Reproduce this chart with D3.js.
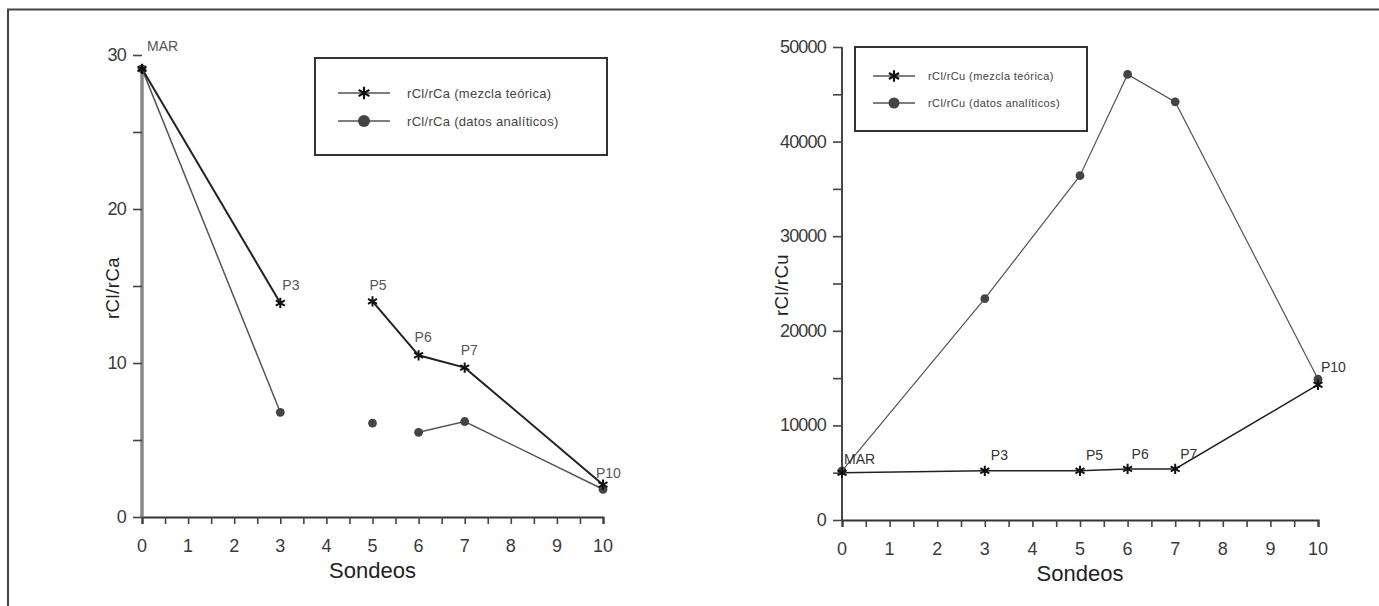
<!DOCTYPE html>
<html>
<head>
<meta charset="utf-8">
<script src="https://cdn.jsdelivr.net/npm/d3@7"></script>
<style>
  body { margin: 0; background: #fff; }
  svg { display: block; font-family: "Liberation Sans", Arial, sans-serif; }
</style>
</head>
<body>
<svg width="1379" height="606"></svg>
<script>
// datos de los sondeos
const sondeos = [0, 3, 5, 6, 7, 10];
const etiquetas = ["MAR", "P3", "P5", "P6", "P7", "P10"];

const caTeorica = [29.1, 13.9, 14.0, 10.5, 9.7, 2.1];
const caAnalitica = [29.1, 6.8, 6.1, 5.5, 6.2, 1.8];
const cuTeorica = [5000, 5200, 5200, 5400, 5400, 14300];
const cuAnalitica = [5200, 23400, 36400, 47100, 44200, 14900];

// tramos unidos por linea (indices)
const caTeoricaTramos = [[0, 1], [2, 3, 4, 5]];
const caAnaliticaTramos = [[0, 1], [2], [3, 4, 5]];
const cuTramos = [[0, 1, 2, 3, 4, 5]];

const xTicks = [0, 1, 2, 3, 4, 5, 6, 7, 8, 9, 10];
const caTicks = [0, 10, 20, 30];
const cuTicks = [0, 10000, 20000, 30000, 40000, 50000];

const svg = d3.select("svg");

// marco
svg.append("path")
    .attr("d", "M8,606V9.5H1379")
    .attr("fill", "none")
    .attr("stroke", "#444")
    .attr("stroke-width", 2);

function drawChart(o) {
    const x = d3.scaleLinear().domain([0, 10]).range([o.x0, o.x1]);
    const y = d3.scaleLinear().domain([0, o.ymax]).range([o.y0, o.y1]);
    const g = svg.append("g");

    // eje x
    const xAxis = g.append("g")
        .attr("transform", `translate(0,${o.y0})`)
        .call(d3.axisBottom(x).tickValues(d3.range(0, 10.01, 0.5)).tickSize(7).tickFormat(""));
    xAxis.select(".domain").attr("stroke", "#333").attr("stroke-width", 2.2);
    xAxis.selectAll(".tick line").attr("stroke", "#444").attr("stroke-width", 1.6);
    g.selectAll(".xlab").data(xTicks).enter().append("text")
        .attr("x", d => x(d)).attr("y", o.y0 + 35)
        .attr("text-anchor", "middle")
        .attr("font-size", 18).attr("fill", "#3a3a3a")
        .text(d => d);
    g.append("text")
        .attr("x", (o.x0 + o.x1) / 2).attr("y", o.y0 + 61)
        .attr("text-anchor", "middle")
        .attr("font-size", 22).attr("fill", "#222")
        .text("Sondeos");

    // eje y
    const yAxis = g.append("g")
        .attr("transform", `translate(${o.x0},0)`)
        .call(d3.axisLeft(y).tickValues(d3.range(0, o.ymax + 1, o.ymax / o.minor)).tickSize(9).tickFormat(""));
    yAxis.select(".domain").attr("stroke", o.ycolor).attr("stroke-width", o.ywidth)
        .attr("d", `M0,${o.y0}V${o.ytop}`);
    yAxis.selectAll(".tick line").attr("stroke", "#444").attr("stroke-width", 1.6);
    g.selectAll(".ylab").data(o.yTicks).enter().append("text")
        .attr("x", o.x0 - 16).attr("y", d => y(d) + 6)
        .attr("text-anchor", "end")
        .attr("font-size", 18).attr("fill", "#3a3a3a")
        .attr("letter-spacing", -0.8)
        .text(d => d);
    g.append("text")
        .attr("transform", `translate(${o.ytitleX},${o.ytitleY}) rotate(-90)`)
        .attr("text-anchor", "middle")
        .attr("font-size", 18.5).attr("fill", "#222")
        .attr("letter-spacing", 0.5)
        .text(o.ytitle);

    const line = d3.line().x(i => x(sondeos[i])).y(i => y(o.ana[i]));
    const lineT = d3.line().x(i => x(sondeos[i])).y(i => y(o.teo[i]));

    o.anaTramos.forEach(t => {
        g.append("path").attr("d", line(t))
            .attr("fill", "none").attr("stroke", "#555").attr("stroke-width", o.anaWidth);
    });
    o.teoTramos.forEach(t => {
        g.append("path").attr("d", lineT(t))
            .attr("fill", "none").attr("stroke", "#222").attr("stroke-width", o.teoWidth);
    });

    // marcadores
    g.selectAll(".ana").data(sondeos).enter().append("circle")
        .attr("cx", d => x(d)).attr("cy", (d, i) => y(o.ana[i]))
        .attr("r", 4.4).attr("fill", "#444");
    const ast = d3.symbol(d3.symbolAsterisk, 75);
    g.selectAll(".teo").data(sondeos).enter().append("path")
        .attr("transform", (d, i) => `translate(${x(d)},${y(o.teo[i])})`)
        .attr("d", ast).attr("fill", "none").attr("stroke", "#111").attr("stroke-width", 2);

    // etiquetas
    g.selectAll(".etq").data(etiquetas).enter().append("text")
        .attr("x", (d, i) => x(sondeos[i]) + o.off[i][0])
        .attr("y", (d, i) => y(o.teo[i]) + o.off[i][1])
        .attr("font-size", 14).attr("fill", o.etqColor)
        .text(d => d);

    // leyenda
    const L = o.legend;
    g.append("rect")
        .attr("x", L.x).attr("y", L.y).attr("width", L.w).attr("height", L.h)
        .attr("fill", "#fff").attr("stroke", "#333").attr("stroke-width", 2);
    o.legendText.forEach((txt, k) => {
        const yy = L.y + L.r0 + k * L.dr;
        g.append("line")
            .attr("x1", L.lx).attr("x2", L.lx + L.lw).attr("y1", yy).attr("y2", yy)
            .attr("stroke", "#555").attr("stroke-width", 1.6);
        if (k === 0) {
            g.append("path").attr("transform", `translate(${L.lx + L.lw / 2},${yy})`)
                .attr("d", d3.symbol(d3.symbolAsterisk, L.ms * 12)).attr("fill", "none")
                .attr("stroke", "#111").attr("stroke-width", 2.2);
        } else {
            g.append("circle").attr("cx", L.lx + L.lw / 2).attr("cy", yy)
                .attr("r", L.ms / 2 + 1.5).attr("fill", "#444");
        }
        g.append("text")
            .attr("x", L.tx).attr("y", yy + L.fs * 0.35)
            .attr("font-size", L.fs).attr("fill", "#444")
            .attr("letter-spacing", L.ls)
            .text(txt);
    });
}

drawChart({
    x0: 142, x1: 603, y0: 517, y1: 55, ymax: 30, minor: 6, ytop: 66,
    ycolor: "#888", ywidth: 3.5,
    yTicks: caTicks, ytitle: "rCl/rCa", ytitleX: 119, ytitleY: 288,
    teo: caTeorica, ana: caAnalitica,
    teoTramos: caTeoricaTramos, anaTramos: caAnaliticaTramos,
    teoWidth: 2, anaWidth: 1.5, etqColor: "#555",
    off: [[5, -18], [2, -13], [-3, -11], [-4, -13], [-4, -13], [-7, -7]],
    legend: { x: 315, y: 58, w: 292, h: 97, r0: 35, dr: 28, lx: 338, lw: 52, ms: 9, tx: 407, fs: 13, ls: 0.3 },
    legendText: ["rCl/rCa  (mezcla teórica)", "rCl/rCa (datos analíticos)"]
});

drawChart({
    x0: 842, x1: 1318, y0: 520, y1: 47, ymax: 50000, minor: 10, ytop: 47,
    ycolor: "#333", ywidth: 1.8,
    yTicks: cuTicks, ytitle: "rCl/rCu", ytitleX: 788, ytitleY: 285,
    teo: cuTeorica, ana: cuAnalitica,
    teoTramos: cuTramos, anaTramos: cuTramos,
    teoWidth: 1.5, anaWidth: 1.2, etqColor: "#333",
    off: [[2, -9], [6, -11], [6, -11], [4, -10], [5, -10], [3, -13]],
    legend: { x: 855, y: 47, w: 232, h: 84, r0: 29, dr: 27, lx: 873, lw: 42, ms: 8, tx: 928, fs: 11, ls: 0.4 },
    legendText: ["rCl/rCu  (mezcla teórica)", "rCl/rCu (datos analíticos)"]
});
</script>
</body>
</html>
